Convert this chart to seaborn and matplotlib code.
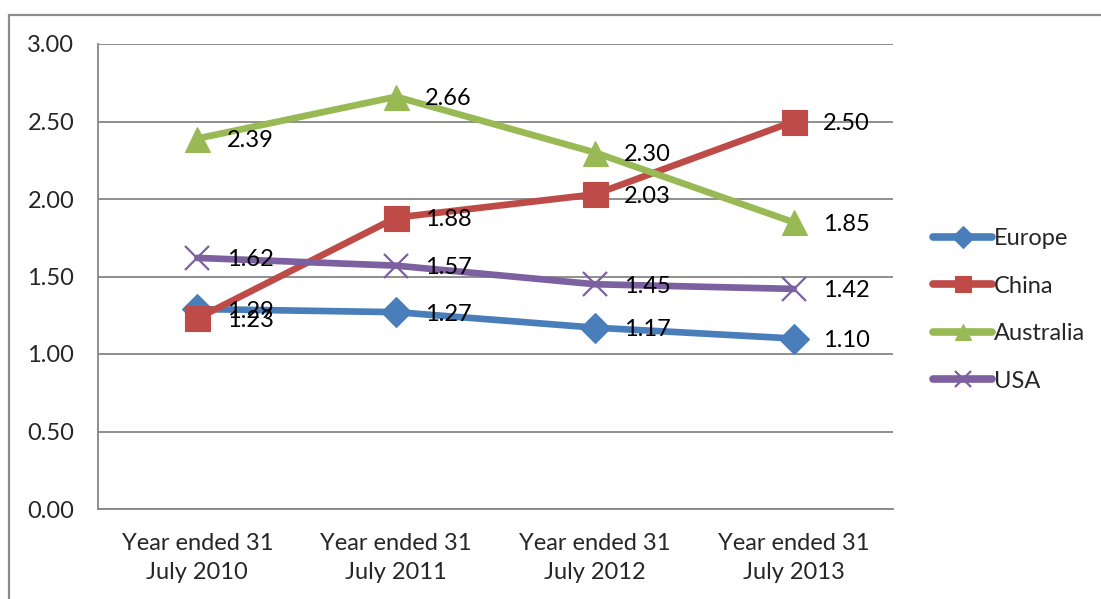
import matplotlib
matplotlib.use("Agg")
import matplotlib.pyplot as plt
from matplotlib.patches import Rectangle
import seaborn as sns
import pandas as pd

categories = ["Year ended 31\nJuly 2010", "Year ended 31\nJuly 2011",
              "Year ended 31\nJuly 2012", "Year ended 31\nJuly 2013"]
europe = [1.29, 1.27, 1.17, 1.10]
china = [1.23, 1.88, 2.03, 2.50]
australia = [2.39, 2.66, 2.30, 1.85]
usa = [1.62, 1.57, 1.45, 1.42]

series_names = ["Europe", "China", "Australia", "USA"]
series_values = [europe, china, australia, usa]
colors = {"Europe": "#4A7EBB", "China": "#BE4B48", "Australia": "#98B954", "USA": "#7D60A0"}
markers = {"Europe": "D", "China": "s", "Australia": "^", "USA": "x"}
msizes = {"Europe": 15, "China": 18, "Australia": 18, "USA": 17}

rows = []
for name, vals in zip(series_names, series_values):
    for i, v in enumerate(vals):
        rows.append({"pos": i, "value": v, "series": name})
df = pd.DataFrame(rows)

sns.set_style("white")
plt.rcParams["font.family"] = ["Lato", "DejaVu Sans"]
FS = 17

fig = plt.figure(figsize=(11.01, 5.99), dpi=100)
ax = fig.add_axes([98 / 1101, 1 - 509 / 599, (893 - 98) / 1101, (509 - 44) / 599])

# outer chart border
fig.patches.append(Rectangle((9 / 1101, -0.1), 1.2, 1 - 15 / 599 + 0.1,
                             transform=fig.transFigure, fill=False,
                             edgecolor="#8C8C8C", lw=1.6, zorder=0))

for name in series_names:
    sub = df[df["series"] == name]
    mk = markers[name]
    sns.lineplot(data=sub, x="pos", y="value", ax=ax, color=colors[name],
                 lw=4.8, marker=mk, markersize=msizes[name],
                 markeredgewidth=1.6 if mk == "x" else 0.8,
                 markeredgecolor=colors[name], label=name,
                 solid_capstyle="round", zorder=3)

for name, vals in zip(series_names, series_values):
    for i, v in enumerate(vals):
        ax.annotate(f"{v:.2f}", (i, v), xytext=(21, -1.5), textcoords="offset points",
                    ha="left", va="center", fontsize=FS, color="black", zorder=10)

ax.set_xlim(-0.5, 3.5)
ax.set_ylim(0, 3.0)
ax.set_yticks([0, 0.5, 1.0, 1.5, 2.0, 2.5, 3.0])
ax.set_yticklabels([f"{t:.2f}" for t in ax.get_yticks()], fontsize=FS)
ax.yaxis.grid(True, color="#868686", lw=1.3)
ax.set_axisbelow(True)

ax.set_xticks([0, 1, 2, 3])
ax.set_xticklabels(categories, fontsize=FS, linespacing=1.5)
ax.set_xticks([-0.5, 0.5, 1.5, 2.5, 3.5], minor=True)
ax.tick_params(axis="x", which="major", length=0, pad=17)
ax.tick_params(axis="x", which="minor", length=7, width=1.3, color="#868686", direction="out")
ax.tick_params(axis="y", length=7, width=1.3, color="#868686", direction="out", pad=10)
ax.set_xlabel("")
ax.set_ylabel("")

for side in ["top", "right"]:
    ax.spines[side].set_visible(False)
for side in ["left", "bottom"]:
    ax.spines[side].set_color("#868686")
    ax.spines[side].set_linewidth(1.3)

leg = ax.legend(loc="center left", bbox_to_anchor=(1.039, 0.428), frameon=False,
                fontsize=FS, handlelength=2.5, handletextpad=0.05,
                labelspacing=1.12, borderaxespad=0)
for h in leg.legend_handles:
    h.set_markersize(11)
    h.set_linewidth(5.5)

fig.savefig("out.png", dpi=100)
